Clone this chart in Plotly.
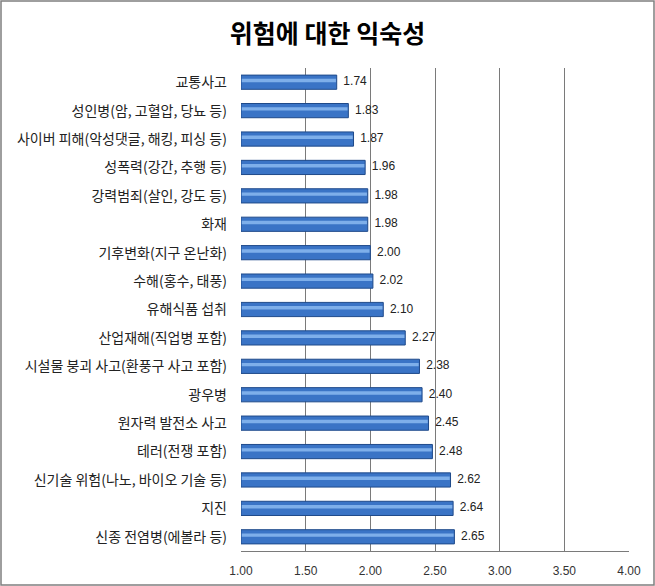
import plotly.graph_objects as go

categories = [
    "교통사고", "성인병(암, 고혈압, 당뇨 등)", "사이버 피해(악성댓글, 해킹, 피싱 등)",
    "성폭력(강간, 추행 등)", "강력범죄(살인, 강도 등)", "화재", "기후변화(지구 온난화)",
    "수해(홍수, 태풍)", "유해식품 섭취", "산업재해(직업병 포함)",
    "시설물 붕괴 사고(환풍구 사고 포함)", "광우병", "원자력 발전소 사고",
    "테러(전쟁 포함)", "신기술 위험(나노, 바이오 기술 등)", "지진", "신종 전염병(에볼라 등)",
]
values = [1.74, 1.83, 1.87, 1.96, 1.98, 1.98, 2.00, 2.02, 2.10, 2.27,
          2.38, 2.40, 2.45, 2.48, 2.62, 2.64, 2.65]
tick_vals = [1.0, 1.5, 2.0, 2.5, 3.0, 3.5, 4.0]

W, H = 655, 586
ml, mr, mt, mb = 241, 26, 68, 35
kfont = "Noto Sans CJK KR"

fig = go.Figure()
# main bar
fig.add_trace(go.Bar(
    y=categories, x=[v - 1 for v in values], base=1, orientation="h", width=0.5,
    marker=dict(color="#3a74c6", line=dict(color="#1f4a8a", width=1)),
    hoverinfo="skip", showlegend=False,
))
# highlight stripe for the glossy look
fig.add_trace(go.Bar(
    y=categories, x=[v - 1.012 for v in values], base=1.006, orientation="h",
    width=0.12, offset=-0.12,
    marker=dict(color="rgba(150,195,245,0.75)", line=dict(width=0)),
    hoverinfo="skip", showlegend=False,
))
# value labels
fig.add_trace(go.Scatter(
    y=categories, x=values, mode="text", text=[f"  {v:.2f}" for v in values],
    textposition="middle right", textfont=dict(family="Liberation Sans", size=12, color="#222"),
    hoverinfo="skip", showlegend=False, cliponaxis=False,
))

fig.update_layout(
    width=W, height=H, barmode="overlay",
    margin=dict(l=ml, r=mr, t=mt, b=mb, autoexpand=False),
    paper_bgcolor="white", plot_bgcolor="white",
    title=dict(text="<b>위험에 대한 익숙성</b>",
               x=(W / 2 - ml) / (W - ml - mr), xref="paper", xanchor="center",
               y=1 - 34 / H, yref="container", yanchor="middle",
               font=dict(family=kfont, size=25, color="black")),
)

fig.update_xaxes(
    range=[1, 4], tickvals=tick_vals, ticktext=[f"{t:.2f}" for t in tick_vals],
    showgrid=True, gridcolor="#7a7a7a", gridwidth=1, zeroline=False,
    showline=True, linecolor="#7a7a7a", linewidth=1, ticks="", ticklen=0,
    ticklabelstandoff=9,
    tickfont=dict(family="Liberation Sans", size=12, color="#333"),
    automargin=False,
)
fig.update_yaxes(
    range=[len(categories) - 0.5, -0.5], showgrid=False, showline=False, ticks="",
    ticklabelstandoff=13, automargin=False,
    tickfont=dict(family=kfont, size=14, color="#222"),
)

# outer chart border
pw, ph = W - ml - mr, H - mt - mb
fig.add_shape(type="rect", xref="paper", yref="paper",
              x0=(-ml + 1) / pw, x1=1 + (mr - 1) / pw,
              y0=(-mb + 1) / ph, y1=1 + (mt - 1) / ph,
              line=dict(color="#7f7f7f", width=1.5), layer="below")

fig.write_html("out.html", config={"displayModeBar": False},
               post_script="document.body.style.margin='0';")
